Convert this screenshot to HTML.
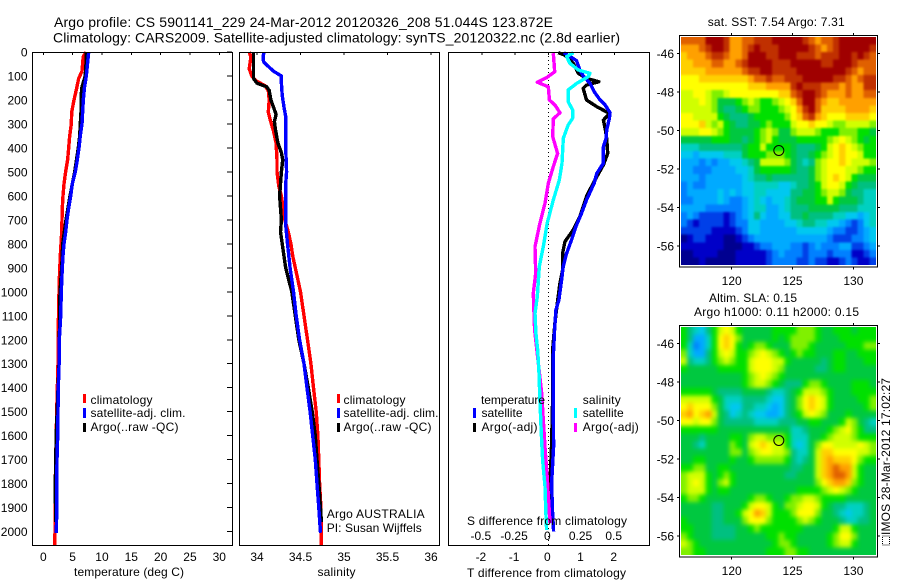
<!DOCTYPE html>
<html lang="en">
<head>
<meta charset="utf-8">
<title>Argo profile 5901141_229</title>
<style>
html,body{margin:0;padding:0;background:#fff;}
svg{display:block;}
text{font-family:"Liberation Sans",sans-serif;font-size:12px;fill:#000;}
.title{font-size:14px;}
</style>
</head>
<body>
<svg id="chart" width="900" height="580" viewBox="0 0 900 580" xmlns="http://www.w3.org/2000/svg">
<defs>
<filter id="soft-sst" x="-5%" y="-5%" width="110%" height="110%" color-interpolation-filters="sRGB">
<feGaussianBlur stdDeviation="1.1"/>
<feComponentTransfer><feFuncA type="linear" slope="4"/></feComponentTransfer>
</filter>
<filter id="soft-sla" x="-5%" y="-5%" width="110%" height="110%" color-interpolation-filters="sRGB">
<feGaussianBlur stdDeviation="2.2"/>
<feComponentTransfer><feFuncA type="linear" slope="4"/></feComponentTransfer>
</filter>
<clipPath id="clip-sst"><rect x="681" y="37" width="195" height="228"/></clipPath>
<clipPath id="clip-sla"><rect x="681" y="327" width="195" height="228"/></clipPath>
</defs>
<rect width="900" height="580" fill="#fff"/>
<text class="title" x="54" y="27" textLength="499">Argo profile: CS 5901141_229 24-Mar-2012 20120326_208 51.044S 123.872E</text>
<text class="title" x="53" y="42.5" textLength="567">Climatology: CARS2009. Satellite-adjusted climatology: synTS_20120322.nc (2.8d earlier)</text>

<g id="map-sst"></g>
<g id="map-sla"></g>
<g id="panel-temp"></g>
<g id="panel-sal"></g>
<g id="panel-diff"></g>

<text x="74" y="576" textLength="110">temperature (deg C)</text>
<text x="317.5" y="576" textLength="38">salinity</text>
<text x="467" y="577" textLength="159">T difference from climatology</text>
<text x="467" y="525" textLength="160">S difference from climatology</text>

<g>
<rect x="83" y="394" width="3" height="9" fill="#f00"/>
<rect x="83" y="408" width="3" height="10" fill="#00f"/>
<rect x="83" y="423" width="3" height="9" fill="#000"/>
<text x="90.5" y="404" textLength="62">climatology</text>
<text x="90.5" y="417" textLength="95">satellite-adj. clim.</text>
<text x="90.5" y="431" textLength="88">Argo(..raw -QC)</text>
</g>
<g>
<rect x="337" y="394" width="3" height="9" fill="#f00"/>
<rect x="337" y="408" width="3" height="10" fill="#00f"/>
<rect x="337" y="423" width="3" height="9" fill="#000"/>
<text x="343.5" y="404" textLength="62">climatology</text>
<text x="343.5" y="417" textLength="95">satellite-adj. clim.</text>
<text x="343.5" y="431" textLength="88">Argo(..raw -QC)</text>
</g>
<text x="326.7" y="518" textLength="98">Argo AUSTRALIA</text>
<text x="326.7" y="532" textLength="95">PI: Susan Wijffels</text>

<g>
<text x="481" y="404" textLength="64">temperature</text>
<rect x="473" y="408" width="3" height="10" fill="#00f"/>
<text x="481.5" y="417" textLength="41">satellite</text>
<rect x="473" y="423" width="3" height="9" fill="#000"/>
<text x="481.5" y="431" textLength="56">Argo(-adj)</text>
<text x="582.7" y="404" textLength="38">salinity</text>
<rect x="574" y="408" width="3" height="10" fill="#0ff"/>
<text x="582.7" y="417" textLength="41">satellite</text>
<rect x="574" y="423" width="3" height="9" fill="#f0f"/>
<text x="582.7" y="431" textLength="56">Argo(-adj)</text>
</g>

<text x="707.7" y="26" textLength="137">sat. SST: 7.54  Argo: 7.31</text>
<text x="709" y="302" textLength="88">Altim. SLA: 0.15</text>
<text x="694" y="316" textLength="165">Argo h1000: 0.11 h2000: 0.15</text>
<rect x="882.5" y="536" width="7" height="9" fill="#fff" stroke="#000" stroke-width="1" stroke-dasharray="1 1" shape-rendering="crispEdges"/>
<text x="890" y="535" transform="rotate(-90 890 535)" textLength="157">IMOS 28-Mar-2012 17:02:27</text>
</svg>

<script>
// ---- temperature profiles ----
const tempClimDepth = [0,20,80,110,150,200,250,300,350,400,450,500,550,600,650,700,750,850,950,1000,1200,1300,1500,1700,1800,2000,2055];
const tempClim = [7.28,6.8,6.6,6.03,5.7,5.23,4.84,4.78,4.5,4.33,4.15,3.8,3.53,3.36,3.24,3.19,3.13,2.9,2.73,2.68,2.5,2.5,2.28,2.11,2.05,2.0,1.95];
const tempSatDepth = [0,100,150,200,300,350,400,450,500,550,600,650,700,750,800,850,900,1000,1100,1200,1300,1400,1500,1600,1700,1800,1900,2005];
const tempSat = [7.73,7.33,7.0,6.82,6.6,6.3,6.08,5.8,5.46,4.95,4.67,4.33,4.04,3.82,3.53,3.36,3.24,3.07,2.96,2.73,2.7,2.56,2.5,2.45,2.34,2.3,2.3,2.22];
const tempArgoDepth = [0,50,100,150,200,250,300,350,400,500,600,700,800,900,1000,1300,1600,1800,1960];
const tempArgo = [7.28,7.28,7.15,6.54,6.43,6.43,6.3,6.2,5.97,5.35,4.55,3.87,3.3,3.13,2.85,2.68,2.2,2.05,2.1];
// ---- salinity profiles ----
const salClimDepth = [0,20,70,100,120,140,160,200,250,280,330,380,450,500,560,600,650,700,750,800,850,900,950,1000,1100,1200,1300,1400,1500,1600,1700,1800,1900,2055];
const salClim = [33.91,33.93,33.91,33.94,33.99,34.09,34.13,34.14,34.13,34.15,34.19,34.22,34.23,34.23,34.25,34.28,34.3,34.32,34.36,34.39,34.41,34.44,34.47,34.5,34.54,34.58,34.62,34.65,34.68,34.7,34.71,34.72,34.735,34.74];
const salSatDepth = [0,20,40,60,80,100,130,180,230,270,400,500,550,650,720,800,900,1000,1100,1200,1300,1400,1500,1600,1700,1800,1900,2005];
const salSat = [34.08,34.07,34.075,34.13,34.19,34.28,34.28,34.29,34.31,34.33,34.33,34.34,34.33,34.33,34.33,34.35,34.38,34.42,34.45,34.49,34.54,34.575,34.61,34.64,34.67,34.69,34.71,34.73];
const salArgoDepth = [0,110,130,145,160,200,230,260,290,320,380,420,450,500,600,700,750,800,900,1000,1100,1200,1300,1400,1500,1600,1700,1800,1900,1960];
const salArgo = [33.96,33.96,34.0,34.11,34.14,34.16,34.19,34.22,34.2,34.21,34.24,34.28,34.295,34.28,34.26,34.28,34.27,34.29,34.33,34.4,34.44,34.48,34.54,34.59,34.635,34.67,34.69,34.71,34.73,34.74];
// ---- differences from climatology ----
const tDiffSatDepth = [3,36,75,100,131,165,200,221,253,277,325,360,395,464,506,548,617,673,728,784,840,895,951,1034,1076,1159,1270,1451,1646,1798,1924,2000];
const tDiffSat = [0.47,0.85,0.95,1.05,1.26,1.38,1.56,1.71,1.86,1.84,1.76,1.74,1.66,1.66,1.46,1.38,1.15,1.0,0.83,0.7,0.55,0.45,0.4,0.32,0.23,0.19,0.15,0.15,0.16,0.1,0.13,0.16];
const tDiffArgoDepth = [3,13,47,89,110,124,138,152,200,228,256,284,318,360,423,471,520,596,687,742,791,840,909,965,1048,1131,1243,1451,1632,1798,1965];
const tDiffArgo = [0.3,0.5,0.75,0.9,1.15,1.52,1.15,1.05,1.15,1.46,1.84,1.66,1.71,1.76,1.79,1.66,1.46,1.17,0.95,0.75,0.5,0.43,0.43,0.35,0.27,0.2,0.13,0.13,0.1,0.05,0.05];
const sDiffSatDepth = [3,19,47,75,89,103,131,158,207,242,277,304,360,464,534,617,714,812,895,1020,1090,1173,1243,1340,1451,1590,1701,1812,1924,1993];
const sDiffSat = [0.19,0.138,0.163,0.226,0.314,0.30,0.214,0.15,0.15,0.183,0.183,0.15,0.113,0.103,0.083,0.038,-0.008,-0.038,-0.068,-0.083,-0.1,-0.093,-0.08,-0.07,-0.063,-0.053,-0.043,-0.025,-0.018,-0.013];
const sDiffArgoDepth = [5,82,107,126,145,200,221,253,279,353,423,478,548,631,714,812,923,1006,1090,1159,1423,1534,1660,1771,1924,1965];
const sDiffArgo = [0.038,0.048,-0.013,-0.083,0,0.008,0.05,0.088,0.038,0.033,0.07,0.038,0,-0.025,-0.063,-0.1,-0.095,-0.113,-0.108,-0.103,-0.05,-0.038,-0.023,-0.008,0.008,0.013];
// ---- tick labels ----
const depthTicks = [0,100,200,300,400,500,600,700,800,900,1000,1100,1200,1300,1400,1500,1600,1700,1800,1900,2000];
const tempTicks = [0,5,10,15,20,25,30];
const salTicks = [34,34.5,35,35.5,36];
const tDiffTicks = [-2,-1,0,1,2];
const sDiffTicks = [-0.5,-0.25,0,0.25,0.5];
const latTicks = [46,48,50,52,54,56];
const lonTicks = [120,125,130];
// ---- profile location ----
const profileLon = [123.872];
const profileLat = [51.044];
// ---- map grids: colour-level per cell, north to south ----
const sstGrid = [
[15,15,15,15,17,17,17,16,14,14,15,15,16,16,16,17,17,17,17,17,16,15,14,15,15,16,17,17,17,17,17,17],
[14,14,14,15,16,17,17,16,14,14,15,16,17,16,16,16,17,17,17,17,17,16,15,14,15,16,17,17,17,17,17,16],
[13,14,14,14,15,16,16,15,14,14,15,17,17,17,16,16,17,17,17,16,16,16,15,16,16,16,17,17,16,17,16,15],
[13,13,14,14,14,15,15,14,14,15,16,17,17,17,17,16,16,16,17,17,17,17,17,16,16,17,17,17,16,15,15,15],
[13,13,13,13,14,14,14,14,14,14,15,16,16,17,17,16,16,16,16,17,17,17,17,17,17,17,17,16,15,14,15,15],
[12,12,12,13,13,13,13,13,13,13,13,14,15,15,16,15,15,16,16,16,17,17,17,17,17,16,16,15,14,15,16,16],
[12,12,12,12,12,12,12,12,12,12,12,13,13,13,14,14,14,14,16,17,16,16,16,15,15,15,14,15,14,14,16,16],
[11,11,12,12,11,10,10,11,12,12,12,12,12,12,12,12,13,13,15,16,17,17,16,15,14,14,14,15,14,14,15,15],
[11,11,11,12,11,10,8,8,8,9,10,11,10,9,9,10,11,12,13,15,17,17,15,14,13,13,14,14,14,14,14,14],
[11,11,11,11,11,10,8,7,7,8,9,10,10,9,9,9,10,11,12,14,16,17,15,13,13,13,13,14,14,14,14,13],
[12,12,11,11,11,11,9,8,7,7,7,8,9,9,9,9,9,10,12,13,15,16,14,13,12,12,12,13,13,13,13,12],
[12,12,12,13,11,10,11,9,8,7,7,8,8,9,10,9,9,9,11,12,12,13,12,12,11,10,10,11,11,11,11,10],
[11,11,11,12,12,11,10,9,8,8,8,8,9,10,11,10,8,8,10,11,11,11,10,9,9,9,10,10,10,9,9,8],
[8,8,8,8,8,9,9,9,8,8,7,8,9,10,11,9,8,8,8,9,9,9,9,9,10,11,12,11,10,9,8,9],
[6,6,6,7,7,7,7,7,7,7,8,9,9,11,9,9,9,9,8,7,7,7,8,9,11,12,13,12,11,10,9,9],
[5,5,4,5,5,5,5,6,6,6,8,9,9,9,10,10,10,9,8,7,7,8,9,10,11,12,13,12,12,11,9,9],
[4,4,4,3,4,3,4,4,5,5,6,7,8,11,11,11,11,10,8,7,6,7,10,11,12,12,13,12,11,11,11,10],
[4,4,3,3,3,4,4,4,4,5,5,6,8,9,9,9,9,9,8,7,7,8,10,11,12,12,12,11,11,10,9,9],
[4,4,4,3,4,4,4,4,4,4,5,6,7,7,8,7,7,7,7,7,7,8,10,11,12,13,12,11,9,8,8,8],
[3,4,3,3,4,4,4,4,4,4,5,5,6,6,6,6,5,5,6,7,7,8,9,11,12,12,11,9,8,7,7,7],
[3,4,4,4,4,4,5,4,5,4,5,5,6,6,5,5,5,5,7,7,8,8,9,10,11,11,10,8,7,7,6,6],
[3,3,4,4,4,4,5,4,3,3,4,5,6,5,4,5,5,6,7,8,8,8,9,9,11,9,8,8,8,7,6,6],
[4,4,4,4,3,3,3,3,3,3,4,5,6,6,4,4,5,6,7,7,7,8,8,8,8,8,7,7,7,6,6,6],
[3,4,3,2,2,2,2,1,2,3,4,5,7,5,4,4,5,5,7,7,8,7,7,7,7,6,6,5,5,4,5,6],
[3,2,1,2,2,2,2,1,2,3,3,5,5,4,4,4,4,5,5,6,7,7,6,6,5,5,4,3,2,3,5,6],
[2,2,2,2,2,1,1,1,1,2,3,5,5,4,4,4,4,4,4,5,5,5,5,5,4,3,3,2,2,3,4,5],
[0,1,2,2,1,1,1,0,0,1,2,3,4,4,4,4,4,4,4,4,4,4,4,4,3,2,2,2,3,3,4,5],
[1,1,1,1,1,1,1,0,0,0,1,1,2,3,3,4,4,4,3,3,2,3,4,3,3,3,4,4,2,2,3,4],
[0,0,1,1,1,1,0,0,0,1,1,1,1,1,2,3,4,3,3,3,2,3,3,3,2,3,3,3,1,1,2,3],
[0,0,0,1,0,0,0,0,0,1,1,1,1,1,2,3,3,3,3,2,2,3,2,2,1,1,2,3,2,1,1,2]
];
const slaGrid = [
[9,7,6,5,7,9,11,12,11,9,8,8,8,8,8,9,9,9,9,10,10,10,9,8,8,9,9,9,8,9,9,9],
[9,7,4,4,6,9,12,13,12,10,8,8,8,8,8,9,8,9,10,10,10,10,9,8,8,8,9,9,9,9,9,9],
[9,6,3,4,6,9,12,13,12,9,8,9,10,10,9,8,8,8,10,10,10,9,8,8,8,8,8,9,9,9,10,10],
[10,6,4,4,7,9,11,12,11,9,9,10,11,12,11,10,9,8,9,10,9,9,8,8,8,9,9,8,8,9,9,9],
[11,7,6,6,7,9,10,11,10,9,9,11,12,12,12,11,11,9,8,8,8,8,8,7,8,9,9,8,8,8,9,9],
[9,8,8,8,8,8,9,9,9,9,9,11,12,12,12,11,10,8,8,8,8,8,7,7,8,9,9,8,8,8,8,8],
[8,8,8,8,8,8,8,8,8,8,9,10,11,12,11,10,9,8,8,8,8,8,8,8,8,8,8,8,8,8,8,8],
[8,8,8,8,8,8,8,8,8,8,9,10,11,11,10,9,8,7,7,7,9,10,10,9,8,8,8,8,9,9,9,8],
[9,9,9,9,9,8,7,7,7,7,8,8,8,8,7,6,6,7,8,9,11,11,11,10,9,8,8,8,9,9,9,9],
[11,11,11,11,11,9,8,6,6,6,7,7,7,7,6,5,5,7,8,10,12,13,12,11,9,8,8,8,8,9,9,10],
[12,13,12,12,12,10,8,6,5,5,7,7,6,6,5,4,5,7,8,10,12,13,12,11,9,8,8,8,8,8,9,10],
[13,14,12,13,14,11,8,7,5,6,7,6,5,5,4,4,5,7,8,9,11,12,11,10,8,8,8,9,8,8,8,8],
[12,12,11,12,12,10,8,7,7,7,7,7,6,6,6,6,7,7,7,8,8,9,9,8,8,8,9,11,10,8,7,6],
[9,9,9,9,9,9,8,8,8,8,8,8,8,8,8,8,8,8,6,6,7,8,8,8,9,10,11,12,10,9,7,7],
[8,8,8,7,8,8,8,8,9,9,8,10,11,11,10,10,10,9,6,6,6,8,8,9,10,11,11,11,10,9,9,9],
[8,8,7,6,8,8,8,8,10,9,8,11,12,13,12,11,11,9,6,5,6,8,10,12,12,11,11,11,11,12,11,10],
[8,8,8,8,8,8,8,8,10,10,8,10,11,12,12,11,11,10,7,6,6,8,11,13,13,12,12,12,12,11,11,10],
[8,8,9,9,8,8,8,8,9,8,8,9,10,10,10,10,10,9,7,6,7,8,11,13,14,13,13,13,12,10,9,9],
[9,9,10,10,8,8,9,9,8,8,8,8,8,8,8,8,8,8,7,7,8,8,11,13,14,15,14,14,11,9,8,8],
[10,11,11,11,9,8,9,10,9,8,8,8,8,8,8,8,8,7,7,8,8,8,11,13,14,15,15,14,11,9,8,8],
[10,11,12,11,9,8,10,11,9,8,8,8,8,8,8,8,8,8,8,8,8,8,10,12,13,14,14,13,10,9,8,8],
[10,11,11,11,9,8,9,9,8,8,8,8,8,8,8,8,8,8,8,9,9,9,9,10,11,12,11,10,9,8,8,8],
[9,10,10,9,8,8,8,8,8,8,8,9,10,10,9,8,8,9,10,10,11,11,10,9,9,9,9,8,8,8,8,8],
[8,8,8,8,8,7,7,8,8,8,9,11,12,12,11,9,8,10,10,11,12,12,11,9,8,7,7,6,6,6,7,8],
[8,8,8,8,8,7,7,8,8,9,11,12,14,13,11,9,9,9,10,12,12,12,10,8,8,7,6,5,6,6,7,8],
[9,8,8,8,8,7,7,8,8,8,10,12,12,12,10,9,9,9,9,10,11,10,9,8,8,8,7,6,6,7,7,8],
[9,9,8,8,8,7,7,7,7,8,8,9,10,9,9,9,9,9,9,9,8,8,8,8,8,9,11,11,9,8,8,8],
[10,9,8,8,8,7,7,7,7,8,8,8,8,8,9,9,10,9,9,8,8,8,8,8,9,10,12,12,10,8,8,8],
[11,10,9,8,8,8,8,8,8,8,8,8,8,8,8,9,10,10,9,8,8,8,8,8,9,10,11,11,9,8,8,8],
[10,10,9,9,8,8,8,8,8,8,8,8,8,8,9,9,9,10,10,9,9,8,8,8,8,8,8,8,8,8,8,8]
];
const gridLonStart = 115.83;
const gridLonStep = 0.5;
const gridLatStart = 45.15;
const gridLatStep = 0.3947;
const palette = ['#000090','#0000c8','#0040e8','#0080ff','#00aaff','#00c8f0','#00d0c0','#00c080','#00c840','#00e000','#80f000','#d0ff00','#ffff00','#ffd000','#ffa000','#e06000','#c03000','#a00000'];

const NS = 'http://www.w3.org/2000/svg';
// axis functions
function depthY(d){ return 52 + d * 0.2398; }
function tempX(t){ return 43.3 + t * 5.867; }
function salX(s){ return 257 + (s - 34) * 87; }
function tDiffX(v){ return 548.3 + v * 33.2; }
function sDiffX(v){ return 548.3 + v * 132.8; }
function lonX(lon){ return 731.7 + (lon - 120) * 12.17; }
function latY(lat, top){ return top + 18.3 + (lat - 46) * 19.27; }

function make(tag, attrs, parent){
  const e = document.createElementNS(NS, tag);
  for (const k in attrs) e.setAttribute(k, attrs[k]);
  parent.appendChild(e);
  return e;
}
function drawProfile(parent, depths, values, xFn, color, name){
  const pts = values.map((v, i) => xFn(v).toFixed(1) + ',' + depthY(depths[i]).toFixed(1)).join(' ');
  const line = make('polyline', {points: pts, fill: 'none', stroke: color, 'stroke-width': 3.4, 'stroke-linejoin': 'round', 'shape-rendering': 'crispEdges'}, parent);
  
  
}
function drawFrame(parent, x0, x1, y0, y1){
  const f = make('rect', {x: x0, y: y0, width: x1 - x0, height: y1 - y0, fill: 'none', stroke: '#000', 'stroke-width': 1, 'shape-rendering': 'crispEdges'}, parent);
  
  
}
function drawLine(parent, x1, y1, x2, y2){
  const l = make('line', {x1: x1, y1: y1, x2: x2, y2: y2, stroke: '#000', 'stroke-width': 1, 'shape-rendering': 'crispEdges'}, parent);
  
  
}
function drawLabel(parent, x, y, anchor, str){
  const t = make('text', {x: x, y: y, 'text-anchor': anchor}, parent);
  t.textContent = str;
  
  
}
function drawMap(parent, grid, top, filterId, clipId){
  const bottom = top + 231.5;
  const clip = make('g', {'clip-path': 'url(#' + clipId + ')'}, parent);
  
  
  const cells = make('g', {filter: 'url(#' + filterId + ')'}, clip);
  
  
  grid.forEach((row, j) => {
    row.forEach((level, i) => {
      const x0 = lonX(gridLonStart + i * gridLonStep);
      const x1 = lonX(gridLonStart + (i + 1) * gridLonStep);
      const y0 = latY(gridLatStart + j * gridLatStep, top);
      const y1 = latY(gridLatStart + (j + 1) * gridLatStep, top);
      const c = make('rect', {x: x0.toFixed(2), y: y0.toFixed(2), width: (x1 - x0 + 0.3).toFixed(2), height: (y1 - y0 + 0.3).toFixed(2), fill: palette[level], 'shape-rendering': 'crispEdges'}, cells);
      
      
    });
  });
  drawFrame(parent, 679.5, 877.5, top + 0.5, bottom + 0.5);
  lonTicks.forEach(lon => {
    const x = lonX(lon);
    drawLine(parent, x, top - 2, x, top);
    drawLine(parent, x, bottom, x, bottom + 3);
    drawLabel(parent, x, bottom + 18.5, 'middle', String(lon));
  });
  latTicks.forEach(lat => {
    const y = latY(lat, top);
    drawLine(parent, 677, y, 679, y);
    drawLine(parent, 878, y, 880, y);
    drawLabel(parent, 674, y + 4.5, 'end', '-' + lat);
  });
  const marker = make('circle', {cx: lonX(profileLon[0]), cy: latY(profileLat[0], top), r: 5, fill: 'none', stroke: '#000', 'stroke-width': 1}, parent);
  
  
}

// maps
drawMap(document.getElementById('map-sst'), sstGrid, 35, 'soft-sst', 'clip-sst');
drawMap(document.getElementById('map-sla'), slaGrid, 325, 'soft-sla', 'clip-sla');

// temperature panel
const pT = document.getElementById('panel-temp');
drawProfile(pT, tempClimDepth, tempClim, tempX, '#f00', 'temperature-climatology-line');
drawProfile(pT, tempArgoDepth, tempArgo, tempX, '#000', 'temperature-argo-line');
drawProfile(pT, tempSatDepth, tempSat, tempX, '#00f', 'temperature-satellite-line');
drawFrame(pT, 32.5, 232.5, 52.5, 545.5);
tempTicks.forEach(t => {
  drawLine(pT, tempX(t), 52, tempX(t), 55);
  drawLabel(pT, tempX(t), 561, 'middle', String(t));
});
depthTicks.forEach(d => {
  drawLine(pT, 227, depthY(d), 232, depthY(d));
  drawLabel(pT, 27.5, depthY(d) + 4.5, 'end', String(d));
});

// salinity panel
const pS = document.getElementById('panel-sal');
drawProfile(pS, salClimDepth, salClim, salX, '#f00', 'salinity-climatology-line');
drawProfile(pS, salArgoDepth, salArgo, salX, '#000', 'salinity-argo-line');
drawProfile(pS, salSatDepth, salSat, salX, '#00f', 'salinity-satellite-line');
drawFrame(pS, 239.5, 439.5, 52.5, 545.5);
salTicks.forEach(s => {
  drawLine(pS, salX(s), 52, salX(s), 55);
  drawLabel(pS, salX(s), 561, 'middle', String(s));
});

// difference panel
const pD = document.getElementById('panel-diff');
const zero = make('line', {x1: tDiffX(0), y1: 52, x2: tDiffX(0), y2: 545, stroke: '#000', 'stroke-width': 1, 'stroke-dasharray': '1 3', 'shape-rendering': 'crispEdges'}, pD);


drawProfile(pD, tDiffArgoDepth, tDiffArgo, tDiffX, '#000', 't-difference-argo-line');
drawProfile(pD, tDiffSatDepth, tDiffSat, tDiffX, '#00f', 't-difference-satellite-line');
drawProfile(pD, sDiffArgoDepth, sDiffArgo, sDiffX, '#f0f', 's-difference-argo-line');
drawProfile(pD, sDiffSatDepth, sDiffSat, sDiffX, '#0ff', 's-difference-satellite-line');
drawFrame(pD, 448.5, 649.5, 52.5, 545.5);
tDiffTicks.forEach(v => {
  drawLine(pD, tDiffX(v), 52, tDiffX(v), 55);
  drawLabel(pD, tDiffX(v) - 1, 561, 'middle', String(v));
});
sDiffTicks.forEach(v => {
  drawLabel(pD, sDiffX(v) - 1, 540, 'middle', String(v));
});
</script>
</body>
</html>
